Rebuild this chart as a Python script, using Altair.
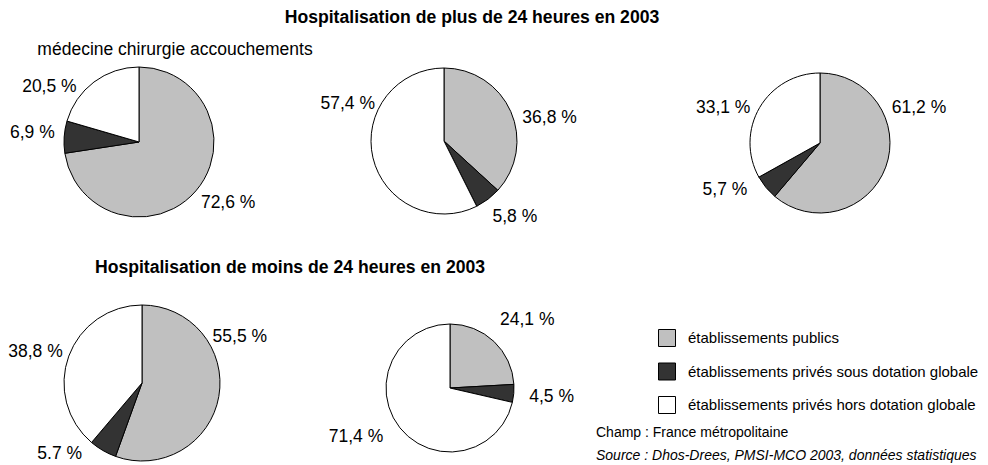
import math
import altair as alt
import pandas as pd

FONT = "Liberation Sans, Arial, sans-serif"

# ---- data ----
categories = [
    "établissements publics",
    "établissements privés sous dotation globale",
    "établissements privés hors dotation globale",
]
colors = ["#c0c0c0", "#333333", "#ffffff"]

pies = ["plus24_mco", "plus24_b", "plus24_c", "moins24_a", "moins24_b"]
values_plus24_mco = [72.6, 6.9, 20.5]
values_plus24_b = [36.8, 5.8, 57.4]
values_plus24_c = [61.2, 5.7, 33.1]
values_moins24_a = [55.5, 5.7, 38.8]
values_moins24_b = [24.1, 4.5, 71.4]

labels_plus24_mco = ["72,6 %", "6,9 %", "20,5 %"]
labels_plus24_b = ["36,8 %", "5,8 %", "57,4 %"]
labels_plus24_c = ["61,2 %", "5,7 %", "33,1 %"]
labels_moins24_a = ["55,5 %", "5.7 %", "38,8 %"]
labels_moins24_b = ["24,1 %", "4,5 %", "71,4 %"]

title_plus = "Hospitalisation de plus de 24 heures en 2003"
title_moins = "Hospitalisation de moins de 24 heures en 2003"
subtitle_mco = "médecine chirurgie accouchements"
note_champ = "Champ : France métropolitaine"
note_source = "Source : Dhos-Drees, PMSI-MCO 2003, données statistiques"

all_values = [values_plus24_mco, values_plus24_b, values_plus24_c, values_moins24_a, values_moins24_b]
all_labels = [labels_plus24_mco, labels_plus24_b, labels_plus24_c, labels_moins24_a, labels_moins24_b]

rows = []
for p, vals, labs in zip(pies, all_values, all_labels):
    for k, (c, v, l) in enumerate(zip(categories, vals, labs)):
        rows.append({"pie": p, "k": k, "category": c, "value": v, "label": l})
df = pd.DataFrame(rows)

# ---- layout (styling only) ----
pie_layout = {
    "plus24_mco": (131, 134, 75),
    "plus24_b": (436, 133, 73),
    "plus24_c": (812, 135, 70),
    "moins24_a": (134, 375, 78),
    "moins24_b": (442, 380, 64),
}
# label placement: (radius, angle correction in degrees) per slice
label_layout = {
    "plus24_mco": [(108, -6.3), (107, 1.2), (105, -21.7)],
    "plus24_b": [(108, 11.6), (104, -5.9), (103, 34.1)],
    "plus24_c": [(105, -39.7), (106, 13.1), (103, -10.5)],
    "moins24_a": [(108, -35.0), (109, 19.0), (111, -3.9)],
    "moins24_b": [(103, 5.2), (102, 0.0), (106, 11.0)],
}

theta_enc = alt.Theta("value:Q", stack=True, scale=alt.Scale(domain=[0, 100]))
legend = alt.Legend(
    orient="none", legendX=650, legendY=321, title=None,
    symbolType="square", symbolSize=289, symbolStrokeColor="black",
    symbolStrokeWidth=1, symbolOpacity=1, labelFont=FONT, labelFontSize=15,
    labelColor="black", rowPadding=11.5, labelOffset=12, padding=0, labelLimit=500,
)
color_enc = alt.Color("category:N", scale=alt.Scale(domain=categories, range=colors), legend=legend)

layers = []
for p in pies:
    cx, cy, r = pie_layout[p]
    base = alt.Chart(df).transform_filter(alt.datum.pie == p)
    layers.append(
        base.mark_arc(outerRadius=r, stroke="black", strokeWidth=1, opacity=1).encode(
            theta=theta_enc, order=alt.Order("k:Q"), color=color_enc,
            x=alt.value(cx), y=alt.value(cy),
        )
    )
    for k, (rad, dtheta) in enumerate(label_layout[p]):
        layers.append(
            base.mark_text(radius=rad, thetaOffset=math.radians(dtheta), font=FONT,
                           fontSize=17.5, color="black").encode(
                theta=theta_enc, order=alt.Order("k:Q"),
                x=alt.value(cx), y=alt.value(cy),
                text=alt.condition(f"datum.k == {k}", alt.Text("label:N"), alt.value("")),
            )
        )


def text_layer(txt, x, y, size=16, **kw):
    return alt.Chart(pd.DataFrame({"t": [txt]})).mark_text(font=FONT, fontSize=size, color="black", **kw).encode(
        text="t:N", x=alt.value(x), y=alt.value(y)
    )


layers.append(text_layer(title_plus, 464, 10, size=17.6, fontWeight="bold"))
layers.append(text_layer(title_moins, 282, 260, size=17.6, fontWeight="bold"))
layers.append(text_layer(subtitle_mco, 167, 42, size=17.5))
layers.append(text_layer(note_champ, 588, 425, size=14, align="left"))
layers.append(text_layer(note_source, 588, 448, size=14, align="left", fontStyle="italic"))

chart = alt.layer(*layers).properties(
    width=972, height=457, padding=0, autosize="none"
).configure_view(strokeWidth=0)

chart.save("out.html", embed_options={"renderer": "svg", "actions": False})
